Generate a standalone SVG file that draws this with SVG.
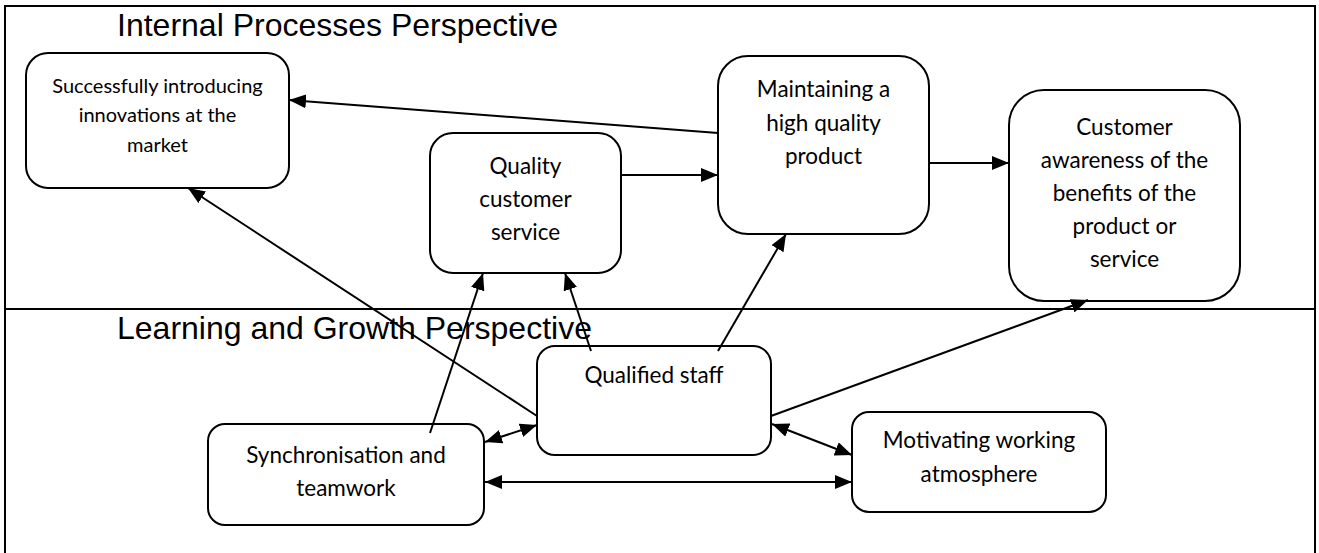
<svg xmlns="http://www.w3.org/2000/svg" width="1319" height="553" viewBox="0 0 1319 553">
  <style>
    .frame { fill: none; stroke: #000; stroke-width: 2; }
    .box { fill: #fff; stroke: #000; stroke-width: 2; }
    .title { font-family: "Liberation Sans", Arial, sans-serif; font-size: 32px; fill: #000; }
    .label { font-family: Lato, "Noto Sans", sans-serif; font-size: 22.5px; fill: #000; text-anchor: middle; }
    .small { font-size: 20px; }
    .link { fill: none; stroke: #000; stroke-width: 2; }
    .one { marker-end: url(#head); }
    .two { marker-start: url(#head); marker-end: url(#head); }
  </style>
  <defs>
    <marker id="head" markerUnits="userSpaceOnUse" markerWidth="18" markerHeight="14" refX="17" refY="7" orient="auto-start-reverse">
      <path d="M0,0 L17,7 L0,14 Z" fill="#000"/>
    </marker>
  </defs>

  <rect width="1319" height="553" fill="#fff"/>

  <!-- outer frame, open at the bottom edge, and the divider between the two perspectives -->
  <g id="frame">
    <path class="frame" d="M5,560 L5,6 L1315,6 L1315,560"/>
    <line class="frame" x1="5" y1="309" x2="1315" y2="309"/>
    <text class="title" x="117" y="36">Internal Processes Perspective</text>
  </g>

  <g id="innovations">
    <rect class="box" x="26" y="53" width="263" height="135" rx="22" ry="22"/>
    <text class="label small" x="157.5" y="93">Successfully introducing</text>
    <text class="label small" x="157.5" y="122">innovations at the</text>
    <text class="label small" x="157.5" y="152">market</text>
  </g>

  <g id="customer-service">
    <rect class="box" x="430" y="133" width="191" height="140" rx="23" ry="23"/>
    <text class="label" x="525.5" y="174">Quality</text>
    <text class="label" x="525.5" y="207">customer</text>
    <text class="label" x="525.5" y="240">service</text>
  </g>

  <g id="product-quality">
    <rect class="box" x="718" y="56" width="211" height="178" rx="30" ry="30"/>
    <text class="label" x="823.5" y="97">Maintaining a</text>
    <text class="label" x="823.5" y="131">high quality</text>
    <text class="label" x="823.5" y="164">product</text>
  </g>

  <g id="customer-awareness">
    <rect class="box" x="1009" y="90" width="231" height="211" rx="35" ry="35"/>
    <text class="label" x="1124.5" y="135">Customer</text>
    <text class="label" x="1124.5" y="168">awareness of the</text>
    <text class="label" x="1124.5" y="201">benefits of the</text>
    <text class="label" x="1124.5" y="234">product or</text>
    <text class="label" x="1124.5" y="267">service</text>
  </g>

  <g id="lower-title">
    <text class="title" x="117" y="339">Learning and Growth Perspective</text>
  </g>

  <g id="qualified-staff">
    <rect class="box" x="537" y="346" width="234" height="109" rx="18" ry="18"/>
    <text class="label" x="654" y="383">Qualified staff</text>
  </g>

  <g id="teamwork">
    <rect class="box" x="208" y="424" width="276" height="101" rx="17" ry="17"/>
    <text class="label" x="346" y="463">Synchronisation and</text>
    <text class="label" x="346" y="496">teamwork</text>
  </g>

  <g id="atmosphere">
    <rect class="box" x="852" y="412" width="254" height="100" rx="17" ry="17"/>
    <text class="label" x="979" y="448">Motivating working</text>
    <text class="label" x="979" y="482">atmosphere</text>
  </g>

  <g id="connectors">
    <line class="link one" x1="718" y1="133" x2="289" y2="100"/>
    <line class="link one" x1="621" y1="175" x2="718" y2="175"/>
    <line class="link one" x1="929" y1="163" x2="1009" y2="163"/>
    <line class="link one" x1="537" y1="416" x2="188" y2="188"/>
    <line class="link one" x1="430" y1="433" x2="483" y2="273"/>
    <line class="link one" x1="591" y1="351" x2="565" y2="273"/>
    <line class="link one" x1="718" y1="351" x2="786" y2="234"/>
    <line class="link one" x1="771" y1="416" x2="1088" y2="300"/>
    <line class="link two" x1="537" y1="425" x2="485" y2="442"/>
    <line class="link two" x1="772" y1="424" x2="852" y2="455"/>
    <line class="link two" x1="485" y1="482" x2="852" y2="482"/>
  </g>
</svg>
